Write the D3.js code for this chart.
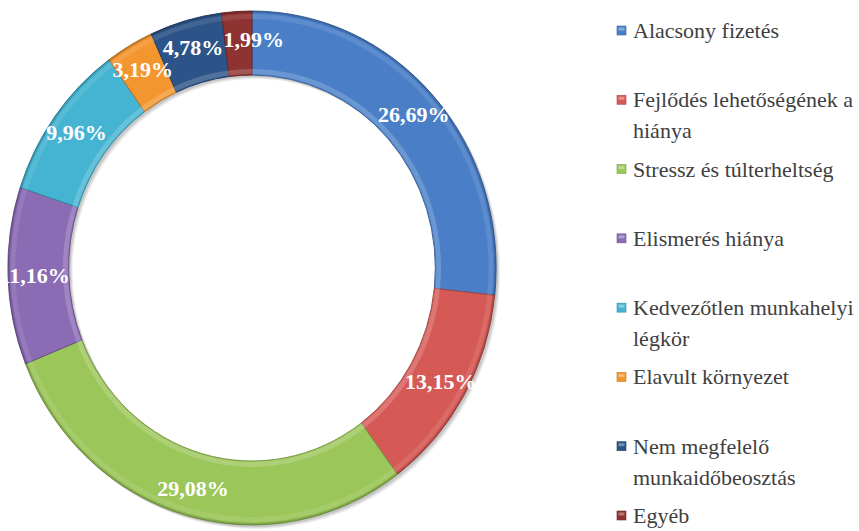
<!DOCTYPE html>
<html>
<head>
<meta charset="utf-8">
<script src="https://cdn.jsdelivr.net/npm/d3@7"></script>
<style>
  html, body { margin: 0; padding: 0; background: #fff; }
  svg { display: block; }
</style>
</head>
<body>
<svg id="chart"></svg>
<script>
// Data
const categories = [
  "Alacsony fizetés",
  "Fejlődés lehetőségének a hiánya",
  "Stressz és túlterheltség",
  "Elismerés hiánya",
  "Kedvezőtlen munkahelyi légkör",
  "Elavult környezet",
  "Nem megfelelő munkaidőbeosztás",
  "Egyéb"
];
const values = [26.69, 13.15, 29.08, 11.16, 9.96, 3.19, 4.78, 1.99];
const colors = ["#4a7fc8", "#d55a55", "#9bc65a", "#8a6bb4", "#45b4d2", "#f4962f", "#2d5488", "#8e3331"];

// Layout
const W = 859, H = 531;
const CX = 252, CY = 268;
const R_OUT = 257, R_IN = 193, SX = 0.95;
const SERIF = '"Liberation Serif"';

const svg = d3.select("#chart").attr("width", W).attr("height", H);

const pie = d3.pie().sort(null).value(d => d.value);
const arcs = pie(categories.map((c, i) => ({ name: c, value: values[i], color: colors[i] })));
const arc = d3.arc().innerRadius(R_IN).outerRadius(R_OUT);
const full = { startAngle: 0, endAngle: 2 * Math.PI };

// soft shadow: a few offset translucent rings (no svg filter)
[[4, 0.06], [3, 0.08], [2, 0.1]].forEach(([o, a]) => {
  svg.append("path")
    .attr("transform", `translate(${CX + o},${CY + o}) scale(${SX},1)`)
    .attr("d", arc(full))
    .attr("fill", "#000").attr("opacity", a);
});

const ring = svg.append("g")
  .attr("transform", `translate(${CX},${CY}) scale(${SX},1)`);

ring.selectAll("path.slice")
  .data(arcs).enter().append("path")
  .attr("class", "slice")
  .attr("d", arc)
  .attr("fill", d => d.data.color)
  .attr("stroke", d => d3.color(d.data.color).darker(0.8))
  .attr("stroke-width", 1);

// bevel-ish edges: light inner band, darker outer rim
ring.append("path")
  .attr("d", d3.arc().innerRadius(R_IN + 1).outerRadius(R_IN + 6)(full))
  .attr("fill", "#fff").attr("opacity", 0.18);
ring.append("path")
  .attr("d", d3.arc().innerRadius(R_OUT - 8).outerRadius(R_OUT - 3)(full))
  .attr("fill", "#fff").attr("opacity", 0.1);
ring.append("path")
  .attr("d", d3.arc().innerRadius(R_OUT - 2).outerRadius(R_OUT)(full))
  .attr("fill", "#000").attr("opacity", 0.15);

// Slice labels, nudged clockwise if they collide with an earlier one.
const fmt = v => d3.format(".2f")(v).replace(".", ",") + "%";
const LABEL_FS = 22, LABEL_R = R_IN + 36;
const emW = ch => ch === "%" ? 1.0 : (ch === "," ? 0.25 : 0.5);
const boxAt = (s, a) => {
  const w = s.split("").reduce((acc, ch) => acc + emW(ch), 0) * LABEL_FS;
  const x = CX + Math.sin(a) * LABEL_R * SX, y = CY - Math.cos(a) * LABEL_R;
  return { x: x - w / 2, y: y - LABEL_FS * 0.4, width: w, height: LABEL_FS * 0.8, cx: x, cy: y };
};
const overlaps = (a, b) => !(a.x + a.width < b.x || b.x + b.width < a.x || a.y + a.height < b.y || b.y + b.height < a.y);
const placed = [];
arcs.forEach(d => {
  const s = fmt(d.data.value);
  let ang = (d.startAngle + d.endAngle) / 2;
  let box = boxAt(s, ang), guard = 0;
  while (placed.some(b => overlaps(box, b)) && guard++ < 200) {
    ang += 0.01;
    box = boxAt(s, ang);
  }
  placed.push(box);
  d.label = { text: s, x: box.cx, y: box.cy };
});

svg.append("g").selectAll("text")
  .data(arcs).enter().append("text")
  .attr("x", d => d.label.x)
  .attr("y", d => d.label.y)
  .attr("text-anchor", "middle")
  .attr("dominant-baseline", "central")
  .style("font-family", SERIF)
  .style("font-weight", "bold")
  .attr("font-size", LABEL_FS)
  .attr("fill", "#fff")
  .text(d => d.label.text);

// Legend
const legendY = d3.scalePoint().domain(categories).range([30, 515]);
const legend = svg.append("g").attr("transform", "translate(617,0)");
const LEG_FS = 22, MAX_W = 228, LINE_H = 31, CHAR_W = 9.25;

const wrap = s => {
  const lines = [];
  let cur = "";
  s.split(" ").forEach(w => {
    const next = cur ? cur + " " + w : w;
    if (cur && next.length * CHAR_W > MAX_W) { lines.push(cur); cur = w; }
    else cur = next;
  });
  lines.push(cur);
  return lines;
};

categories.forEach((c, i) => {
  const g = legend.append("g").attr("transform", `translate(0,${legendY(c)})`);
  const col = d3.color(colors[i]);
  g.append("rect")
    .attr("x", 0).attr("y", -4).attr("width", 9).attr("height", 9)
    .attr("fill", col)
    .attr("stroke", col.darker(0.6)).attr("stroke-width", 0.6);
  g.append("rect")
    .attr("x", 1.5).attr("y", -2.5).attr("width", 6).attr("height", 3)
    .attr("fill", "#fff").attr("opacity", 0.35);

  const text = g.append("text")
    .style("font-family", SERIF)
    .attr("font-size", LEG_FS)
    .attr("fill", "#404040")
    .attr("y", 0).attr("dominant-baseline", "central");
  wrap(c).forEach((ln, j) => {
    text.append("tspan").attr("x", 16).attr("dy", j === 0 ? 0 : LINE_H).text(ln);
  });
});
</script>
</body>
</html>
